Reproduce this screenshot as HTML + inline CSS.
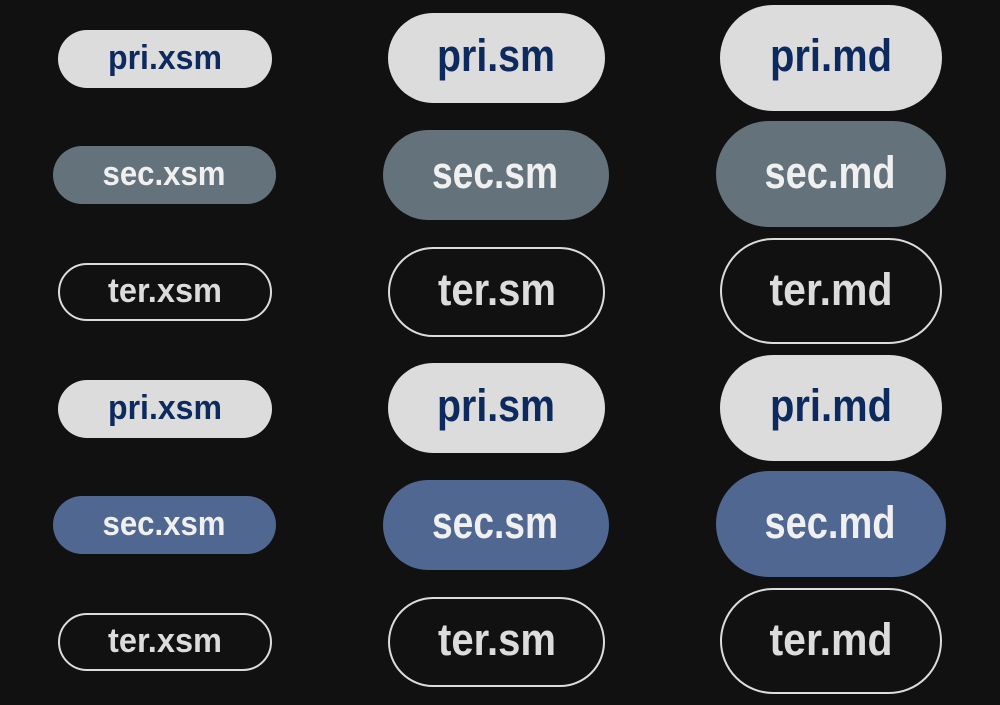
<!DOCTYPE html>
<html><head><style>html,body{margin:0;padding:0;background:#111;}</style></head><body>
<svg width="1000" height="700" xmlns="http://www.w3.org/2000/svg" font-family="Liberation Sans, sans-serif" font-weight="bold" text-anchor="middle">
<rect width="1000" height="700" fill="#111"/>
<g>
<rect x="58" y="30" width="214" height="58" rx="29" fill="#dcdcdc"/>
<text x="165" y="69" font-size="34" fill="#0d2a5e" textLength="114" lengthAdjust="spacingAndGlyphs">pri.xsm</text>
<rect x="388" y="13" width="217" height="90" rx="45" fill="#dcdcdc"/>
<text x="496" y="71" font-size="45" fill="#0d2a5e" textLength="118" lengthAdjust="spacingAndGlyphs">pri.sm</text>
<rect x="720" y="5" width="222" height="106" rx="53" fill="#dcdcdc"/>
<text x="831" y="71" font-size="45" fill="#0d2a5e" textLength="122" lengthAdjust="spacingAndGlyphs">pri.md</text>

<rect x="53" y="146" width="223" height="58" rx="29" fill="#64727c"/>
<text x="164" y="185" font-size="34" fill="#f0f0f0" textLength="123" lengthAdjust="spacingAndGlyphs">sec.xsm</text>
<rect x="383" y="130" width="226" height="90" rx="45" fill="#64727c"/>
<text x="495" y="188" font-size="45" fill="#f0f0f0" textLength="126" lengthAdjust="spacingAndGlyphs">sec.sm</text>
<rect x="716" y="121" width="230" height="106" rx="53" fill="#64727c"/>
<text x="830" y="188" font-size="45" fill="#f0f0f0" textLength="131" lengthAdjust="spacingAndGlyphs">sec.md</text>

<rect x="59" y="264" width="212" height="56" rx="28" fill="none" stroke="#dcdcdc" stroke-width="2"/>
<text x="165" y="302" font-size="34" fill="#dcdcdc" textLength="114" lengthAdjust="spacingAndGlyphs">ter.xsm</text>
<rect x="389" y="248" width="215" height="88" rx="44" fill="none" stroke="#dcdcdc" stroke-width="2"/>
<text x="497" y="305" font-size="45" fill="#dcdcdc" textLength="118" lengthAdjust="spacingAndGlyphs">ter.sm</text>
<rect x="721" y="239" width="220" height="104" rx="52" fill="none" stroke="#dcdcdc" stroke-width="2"/>
<text x="831" y="305" font-size="45" fill="#dcdcdc" textLength="123" lengthAdjust="spacingAndGlyphs">ter.md</text>
</g>
<g transform="translate(0,350)">
<rect x="58" y="30" width="214" height="58" rx="29" fill="#dcdcdc"/>
<text x="165" y="69" font-size="34" fill="#0d2a5e" textLength="114" lengthAdjust="spacingAndGlyphs">pri.xsm</text>
<rect x="388" y="13" width="217" height="90" rx="45" fill="#dcdcdc"/>
<text x="496" y="71" font-size="45" fill="#0d2a5e" textLength="118" lengthAdjust="spacingAndGlyphs">pri.sm</text>
<rect x="720" y="5" width="222" height="106" rx="53" fill="#dcdcdc"/>
<text x="831" y="71" font-size="45" fill="#0d2a5e" textLength="122" lengthAdjust="spacingAndGlyphs">pri.md</text>

<rect x="53" y="146" width="223" height="58" rx="29" fill="#4f6791"/>
<text x="164" y="185" font-size="34" fill="#f0f0f0" textLength="123" lengthAdjust="spacingAndGlyphs">sec.xsm</text>
<rect x="383" y="130" width="226" height="90" rx="45" fill="#4f6791"/>
<text x="495" y="188" font-size="45" fill="#f0f0f0" textLength="126" lengthAdjust="spacingAndGlyphs">sec.sm</text>
<rect x="716" y="121" width="230" height="106" rx="53" fill="#4f6791"/>
<text x="830" y="188" font-size="45" fill="#f0f0f0" textLength="131" lengthAdjust="spacingAndGlyphs">sec.md</text>

<rect x="59" y="264" width="212" height="56" rx="28" fill="none" stroke="#dcdcdc" stroke-width="2"/>
<text x="165" y="302" font-size="34" fill="#dcdcdc" textLength="114" lengthAdjust="spacingAndGlyphs">ter.xsm</text>
<rect x="389" y="248" width="215" height="88" rx="44" fill="none" stroke="#dcdcdc" stroke-width="2"/>
<text x="497" y="305" font-size="45" fill="#dcdcdc" textLength="118" lengthAdjust="spacingAndGlyphs">ter.sm</text>
<rect x="721" y="239" width="220" height="104" rx="52" fill="none" stroke="#dcdcdc" stroke-width="2"/>
<text x="831" y="305" font-size="45" fill="#dcdcdc" textLength="123" lengthAdjust="spacingAndGlyphs">ter.md</text>
</g>
</svg>
</body></html>
